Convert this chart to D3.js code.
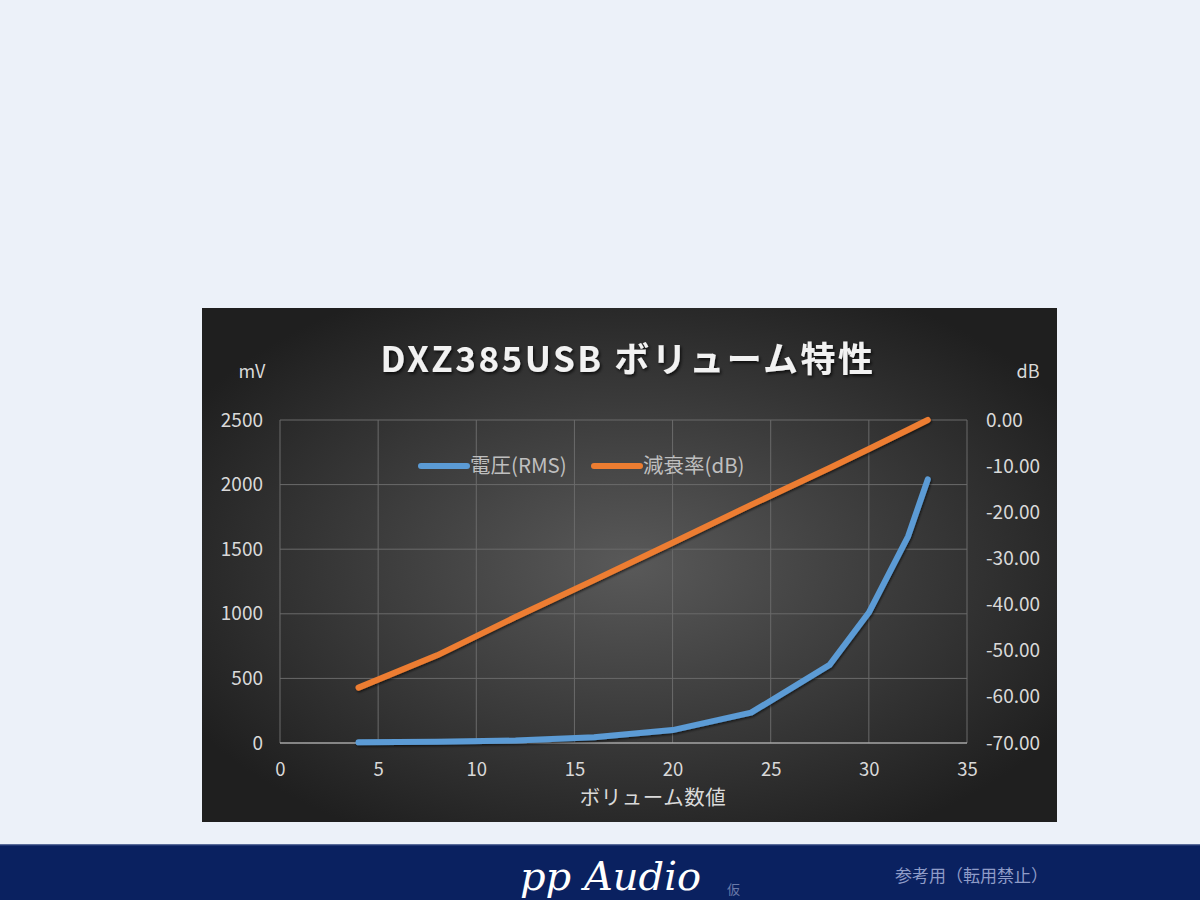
<!DOCTYPE html>
<html><head><meta charset="utf-8">
<script src="https://cdn.jsdelivr.net/npm/d3@7"></script>
<style>
html,body{margin:0;padding:0;background:#ECF1F9;}
svg{display:block;}
</style></head><body>
<svg id="c" width="1200" height="900"></svg>
<script>
const volume = [4, 8, 12, 16, 20, 24, 28, 30, 32, 33];
const voltageMV = [5, 10, 20, 45, 100, 235, 605, 1010, 1600, 2040];
const attenuationDB = [-58, -51, -42.7, -34.7, -26.6, -18.4, -10.4, -6.3, -2.1, 0];
const xTicks = [0, 5, 10, 15, 20, 25, 30, 35];
const yLeftTicks = [0, 500, 1000, 1500, 2000, 2500];
const yRightTicks = [0, -10, -20, -30, -40, -50, -60, -70];
const seriesNames = ["電圧(RMS)", "減衰率(dB)"];
const titleText = "DXZ385USB ボリューム特性";
const xTitle = "ボリューム数値";

const svg = d3.select("#c");
const defs = svg.append("defs");
const rg = defs.append("radialGradient").attr("id","bg").attr("cx","50%").attr("cy","50%").attr("r","60%");
rg.append("stop").attr("offset","0%").attr("stop-color","#595959");
rg.append("stop").attr("offset","100%").attr("stop-color","#1f1f1f");
const sh = defs.append("filter").attr("id","sh").attr("x","-10%").attr("y","-10%").attr("width","120%").attr("height","140%");
sh.append("feDropShadow").attr("dx",1.5).attr("dy",2).attr("stdDeviation",1.5).attr("flood-color","#000").attr("flood-opacity",0.7);
const lsh = defs.append("filter").attr("id","lsh").attr("x","-10%").attr("y","-10%").attr("width","120%").attr("height","120%");
lsh.append("feDropShadow").attr("dx",1).attr("dy",1.5).attr("stdDeviation",1.2).attr("flood-color","#000").attr("flood-opacity",0.6);

// chart panel
svg.append("rect").attr("x",202).attr("y",308).attr("width",855).attr("height",514).attr("fill","url(#bg)");

const font = "'Noto Sans CJK JP','Noto Sans',sans-serif";
const fg = "#d9d9d9";

const x = d3.scaleLinear().domain([0,35]).range([280,967]);
const yL = d3.scaleLinear().domain([0,2500]).range([743,420]);
const yR = d3.scaleLinear().domain([-70,0]).range([743,420]);

// gridlines
const g = svg.append("g");
g.selectAll(".vg").data(xTicks).join("line")
  .attr("x1",d=>x(d)).attr("x2",d=>x(d)).attr("y1",420).attr("y2",743)
  .attr("stroke","#6a6a6a").attr("stroke-width",1);
g.selectAll(".hg").data(yLeftTicks.filter(d=>d>0)).join("line")
  .attr("x1",280).attr("x2",967).attr("y1",d=>yL(d)).attr("y2",d=>yL(d))
  .attr("stroke","#6a6a6a").attr("stroke-width",1);
g.append("line").attr("x1",280).attr("x2",967).attr("y1",yL(0)).attr("y2",yL(0))
  .attr("stroke","#a6a6a6").attr("stroke-width",1.5);

// axes
const fmtR = d => d3.format(".2f")(d).replace("\u2212","-");
const axL = svg.append("g").attr("transform","translate(263,0)")
  .call(d3.axisLeft(yL).tickValues(yLeftTicks).tickSize(0).tickPadding(0).tickFormat(d3.format("d")));
const axR = svg.append("g").attr("transform","translate(986,0)")
  .call(d3.axisRight(yR).tickValues(yRightTicks).tickSize(0).tickPadding(0).tickFormat(fmtR));
const axB = svg.append("g").attr("transform","translate(0,770)")
  .call(d3.axisBottom(x).tickValues(xTicks).tickSize(0).tickPadding(0).tickFormat(d3.format("d")));
[axL,axR,axB].forEach(a=>{
  a.select(".domain").remove();
  a.selectAll("text").attr("fill",fg).style("font-family",font).style("font-size","19px");
});
axB.selectAll("text").attr("dy","0.32em").style("font-size","18.5px");

// unit labels
svg.append("text").attr("x",252).attr("y",378).attr("text-anchor","middle").attr("fill",fg)
  .style("font-family",font).style("font-size","18px").text("mV");
svg.append("text").attr("x",1028).attr("y",378).attr("text-anchor","middle").attr("fill",fg)
  .style("font-family",font).style("font-size","18px").text("dB");

// title
svg.append("text").attr("x",628).attr("y",372).attr("text-anchor","middle").attr("fill","#f2f2f2")
  .attr("filter","url(#sh)").style("font-family",font).style("font-weight","bold")
  .style("font-size","35px").style("letter-spacing","2.5px").text(titleText);

// x title
svg.append("text").attr("x",653).attr("y",798).attr("dy","0.35em").attr("text-anchor","middle").attr("fill",fg)
  .style("font-family",font).style("font-size","20.5px").style("letter-spacing","0.5px").text(xTitle);

// lines
const lineL = d3.line().x((d,i)=>x(volume[i])).y(d=>yL(d));
const lineR = d3.line().x((d,i)=>x(volume[i])).y(d=>yR(d));
svg.append("path").datum(attenuationDB).attr("d",lineR).attr("fill","none")
  .attr("stroke","#ED7D31").attr("stroke-width",6).attr("stroke-linecap","round").attr("stroke-linejoin","round").attr("filter","url(#lsh)");
svg.append("path").datum(voltageMV).attr("d",lineL).attr("fill","none")
  .attr("stroke","#5B9BD5").attr("stroke-width",6).attr("stroke-linecap","round").attr("stroke-linejoin","round").attr("filter","url(#lsh)");

// legend
const legend = [{name:seriesNames[0],color:"#5B9BD5",x0:421},{name:seriesNames[1],color:"#ED7D31",x0:594}];
const lg = svg.append("g");
legend.forEach(l=>{
  lg.append("line").attr("x1",l.x0).attr("x2",l.x0+46).attr("y1",466).attr("y2",466)
    .attr("stroke",l.color).attr("stroke-width",6).attr("stroke-linecap","round");
  lg.append("text").attr("x",l.x0+49).attr("y",473).attr("fill","#bfbfbf")
    .style("font-family",font).style("font-size","20.5px").text(l.name);
});

// footer
svg.append("rect").attr("x",0).attr("y",845).attr("width",1200).attr("height",55).attr("fill","#0A2160");
svg.append("line").attr("x1",0).attr("x2",1200).attr("y1",845).attr("y2",845).attr("stroke","#2a3f7a").attr("stroke-width",1.5);
svg.append("text").attr("x",520).attr("y",890).attr("fill","#ffffff")
  .style("font-family","'DejaVu Serif',serif").style("font-style","italic").style("font-size","40px")
  .text("pp Audio");
svg.append("text").attr("x",727).attr("y",894).attr("fill","#6a7aa8")
  .style("font-family",font).style("font-size","13px").text("仮");
svg.append("text").attr("x",895).attr("y",882).attr("fill","#8f9cc8")
  .style("font-family",font).style("font-size","17px").text("参考用（転用禁止）");
</script>
</body></html>
